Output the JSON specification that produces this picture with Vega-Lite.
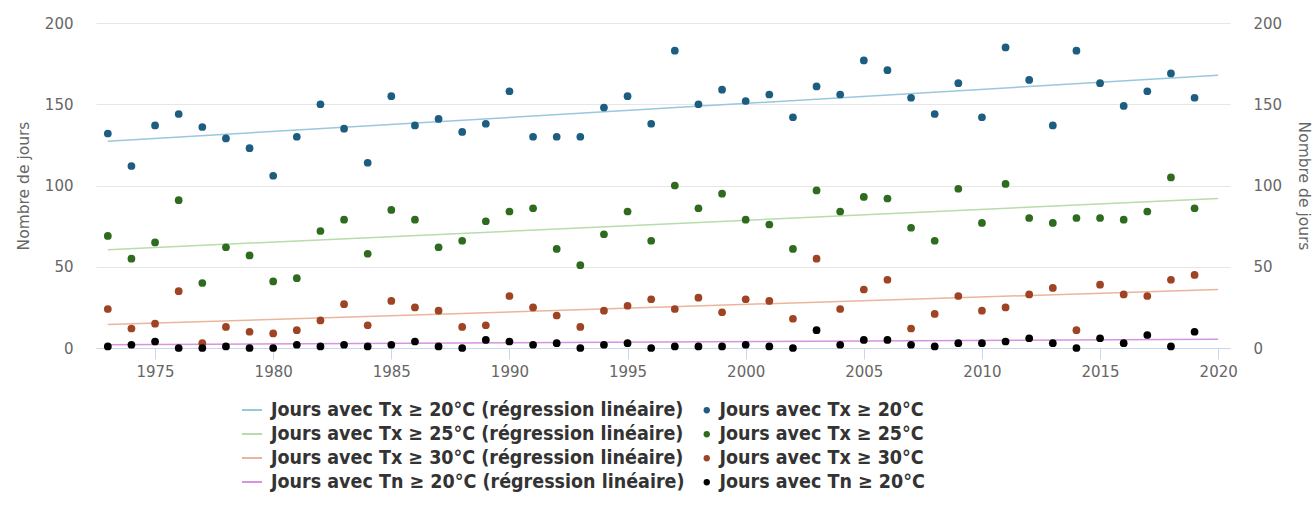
{
  "$schema": "https://vega.github.io/schema/vega-lite/v6.json",
  "width": 1134,
  "height": 325,
  "autosize": "none",
  "padding": {"left": 96, "top": 23, "right": 85, "bottom": 162},
  "background": "white",
  "config": {"view": {"stroke": null}, "font": "DejaVu Sans"},
  "datasets": {
    "reg": [
      {"annee": 1973, "Tx20_reg": 127.2, "Tx25_reg": 60.5, "Tx30_reg": 14.4, "Tn20_reg": 2.0},
      {"annee": 2020, "Tx20_reg": 167.8, "Tx25_reg": 92.0, "Tx30_reg": 36.0, "Tn20_reg": 5.4}
    ],
    "pts": [
      {"annee": 1973, "Tx20": 132, "Tx25": 69, "Tx30": 24, "Tn20": 1},
      {"annee": 1974, "Tx20": 112, "Tx25": 55, "Tx30": 12, "Tn20": 2},
      {"annee": 1975, "Tx20": 137, "Tx25": 65, "Tx30": 15, "Tn20": 4},
      {"annee": 1976, "Tx20": 144, "Tx25": 91, "Tx30": 35, "Tn20": 0},
      {"annee": 1977, "Tx20": 136, "Tx25": 40, "Tx30": 3, "Tn20": 0},
      {"annee": 1978, "Tx20": 129, "Tx25": 62, "Tx30": 13, "Tn20": 1},
      {"annee": 1979, "Tx20": 123, "Tx25": 57, "Tx30": 10, "Tn20": 0},
      {"annee": 1980, "Tx20": 106, "Tx25": 41, "Tx30": 9, "Tn20": 0},
      {"annee": 1981, "Tx20": 130, "Tx25": 43, "Tx30": 11, "Tn20": 2},
      {"annee": 1982, "Tx20": 150, "Tx25": 72, "Tx30": 17, "Tn20": 1},
      {"annee": 1983, "Tx20": 135, "Tx25": 79, "Tx30": 27, "Tn20": 2},
      {"annee": 1984, "Tx20": 114, "Tx25": 58, "Tx30": 14, "Tn20": 1},
      {"annee": 1985, "Tx20": 155, "Tx25": 85, "Tx30": 29, "Tn20": 2},
      {"annee": 1986, "Tx20": 137, "Tx25": 79, "Tx30": 25, "Tn20": 4},
      {"annee": 1987, "Tx20": 141, "Tx25": 62, "Tx30": 23, "Tn20": 1},
      {"annee": 1988, "Tx20": 133, "Tx25": 66, "Tx30": 13, "Tn20": 0},
      {"annee": 1989, "Tx20": 138, "Tx25": 78, "Tx30": 14, "Tn20": 5},
      {"annee": 1990, "Tx20": 158, "Tx25": 84, "Tx30": 32, "Tn20": 4},
      {"annee": 1991, "Tx20": 130, "Tx25": 86, "Tx30": 25, "Tn20": 2},
      {"annee": 1992, "Tx20": 130, "Tx25": 61, "Tx30": 20, "Tn20": 3},
      {"annee": 1993, "Tx20": 130, "Tx25": 51, "Tx30": 13, "Tn20": 0},
      {"annee": 1994, "Tx20": 148, "Tx25": 70, "Tx30": 23, "Tn20": 2},
      {"annee": 1995, "Tx20": 155, "Tx25": 84, "Tx30": 26, "Tn20": 3},
      {"annee": 1996, "Tx20": 138, "Tx25": 66, "Tx30": 30, "Tn20": 0},
      {"annee": 1997, "Tx20": 183, "Tx25": 100, "Tx30": 24, "Tn20": 1},
      {"annee": 1998, "Tx20": 150, "Tx25": 86, "Tx30": 31, "Tn20": 1},
      {"annee": 1999, "Tx20": 159, "Tx25": 95, "Tx30": 22, "Tn20": 1},
      {"annee": 2000, "Tx20": 152, "Tx25": 79, "Tx30": 30, "Tn20": 2},
      {"annee": 2001, "Tx20": 156, "Tx25": 76, "Tx30": 29, "Tn20": 1},
      {"annee": 2002, "Tx20": 142, "Tx25": 61, "Tx30": 18, "Tn20": 0},
      {"annee": 2003, "Tx20": 161, "Tx25": 97, "Tx30": 55, "Tn20": 11},
      {"annee": 2004, "Tx20": 156, "Tx25": 84, "Tx30": 24, "Tn20": 2},
      {"annee": 2005, "Tx20": 177, "Tx25": 93, "Tx30": 36, "Tn20": 5},
      {"annee": 2006, "Tx20": 171, "Tx25": 92, "Tx30": 42, "Tn20": 5},
      {"annee": 2007, "Tx20": 154, "Tx25": 74, "Tx30": 12, "Tn20": 2},
      {"annee": 2008, "Tx20": 144, "Tx25": 66, "Tx30": 21, "Tn20": 1},
      {"annee": 2009, "Tx20": 163, "Tx25": 98, "Tx30": 32, "Tn20": 3},
      {"annee": 2010, "Tx20": 142, "Tx25": 77, "Tx30": 23, "Tn20": 3},
      {"annee": 2011, "Tx20": 185, "Tx25": 101, "Tx30": 25, "Tn20": 4},
      {"annee": 2012, "Tx20": 165, "Tx25": 80, "Tx30": 33, "Tn20": 6},
      {"annee": 2013, "Tx20": 137, "Tx25": 77, "Tx30": 37, "Tn20": 3},
      {"annee": 2014, "Tx20": 183, "Tx25": 80, "Tx30": 11, "Tn20": 0},
      {"annee": 2015, "Tx20": 163, "Tx25": 80, "Tx30": 39, "Tn20": 6},
      {"annee": 2016, "Tx20": 149, "Tx25": 79, "Tx30": 33, "Tn20": 3},
      {"annee": 2017, "Tx20": 158, "Tx25": 84, "Tx30": 32, "Tn20": 8},
      {"annee": 2018, "Tx20": 169, "Tx25": 105, "Tx30": 42, "Tn20": 1},
      {"annee": 2019, "Tx20": 154, "Tx25": 86, "Tx30": 45, "Tn20": 10}
    ]
  },
  "layer": [
    {
      "data": {"name": "reg"},
      "transform": [{"fold": ["Tx20_reg", "Tx25_reg", "Tx30_reg", "Tn20_reg"], "as": ["serie", "jours"]}],
      "mark": {"type": "line", "strokeWidth": 1.5},
      "encoding": {
        "x": {
          "field": "annee", "type": "quantitative",
          "scale": {"domain": [1972.5, 2020.5], "nice": false, "zero": false},
          "axis": {
            "title": null, "values": [1975, 1980, 1985, 1990, 1995, 2000, 2005, 2010, 2015, 2020],
            "format": "d", "grid": false, "tickSize": 11, "tickColor": "#ccd6eb",
            "domainColor": "#ccd6eb", "labelFontSize": 15, "labelColor": "#666666",
            "labelPadding": 5, "labelFont": "DejaVu Sans"
          }
        },
        "y": {
          "field": "jours", "type": "quantitative",
          "scale": {"domain": [0, 200], "nice": false},
          "axis": {
            "orient": "left", "title": "Nombre de jours", "values": [0, 50, 100, 150, 200],
            "grid": true, "gridColor": "#e6e6e6", "domain": false, "ticks": false,
            "labelPadding": 23, "labelFontSize": 15, "labelColor": "#666666",
            "titleFontSize": 15.5, "titleFontWeight": "normal", "titleColor": "#666666",
            "titlePadding": 13, "labelFont": "DejaVu Sans", "titleFont": "DejaVu Sans"
          }
        },
        "stroke": {
          "field": "serie", "type": "nominal",
          "scale": {
            "domain": ["Tx20_reg", "Tx25_reg", "Tx30_reg", "Tn20_reg"],
            "range": ["#98c8de", "#b8dcab", "#eab59c", "#d794df"]
          },
          "legend": {
            "orient": "none", "legendX": 145, "legendY": 376, "direction": "vertical",
            "rowPadding": 3, "title": null, "symbolType": "stroke", "symbolSize": 400,
            "symbolStrokeWidth": 2,
            "labelFont": "DejaVu Sans Condensed", "labelFontWeight": "bold", "labelFontSize": 19.5,
            "labelColor": "#333333", "labelLimit": 800, "labelOffset": 8,
            "labelExpr": "(indexof(datum.value, 'Tn') >= 0 ? 'Jours avec Tn ≥ ' : 'Jours avec Tx ≥ ') + (indexof(datum.value, '20') >= 0 ? '20' : (indexof(datum.value, '25') >= 0 ? '25' : '30')) + '°C (régression linéaire)'"
          }
        }
      }
    },
    {
      "data": {"name": "pts"},
      "transform": [{"fold": ["Tx20", "Tx25", "Tx30", "Tn20"], "as": ["serie", "jours"]}],
      "mark": {"type": "point", "filled": true, "size": 60, "opacity": 1},
      "encoding": {
        "x": {"field": "annee", "type": "quantitative"},
        "y": {
          "field": "jours", "type": "quantitative",
          "scale": {"domain": [0, 200], "nice": false},
          "axis": {
            "orient": "right", "title": "Nombre de jours", "values": [0, 50, 100, 150, 200],
            "grid": false, "domain": false, "ticks": false,
            "labelPadding": 23, "labelFontSize": 15, "labelColor": "#666666",
            "titleFontSize": 15.5, "titleFontWeight": "normal", "titleColor": "#666666",
            "titlePadding": 14, "labelFont": "DejaVu Sans", "titleFont": "DejaVu Sans"
          }
        },
        "fill": {
          "field": "serie", "type": "nominal",
          "scale": {
            "domain": ["Tx20", "Tx25", "Tx30", "Tn20"],
            "range": ["#1d5e80", "#2f6b1f", "#9e4323", "#000000"]
          },
          "legend": {
            "orient": "none", "legendX": 601, "legendY": 377.5, "direction": "vertical",
            "rowPadding": 3, "title": null, "symbolType": "circle", "symbolSize": 40,
            "labelFont": "DejaVu Sans Condensed", "labelFontWeight": "bold", "labelFontSize": 19.5,
            "labelColor": "#333333", "labelLimit": 800, "labelOffset": 3,
            "labelExpr": "(indexof(datum.value, 'Tn') >= 0 ? 'Jours avec Tn ≥ ' : 'Jours avec Tx ≥ ') + (indexof(datum.value, '20') >= 0 ? '20' : (indexof(datum.value, '25') >= 0 ? '25' : '30')) + '°C'"
          }
        }
      }
    }
  ],
  "resolve": {"scale": {"y": "independent"}}
}
